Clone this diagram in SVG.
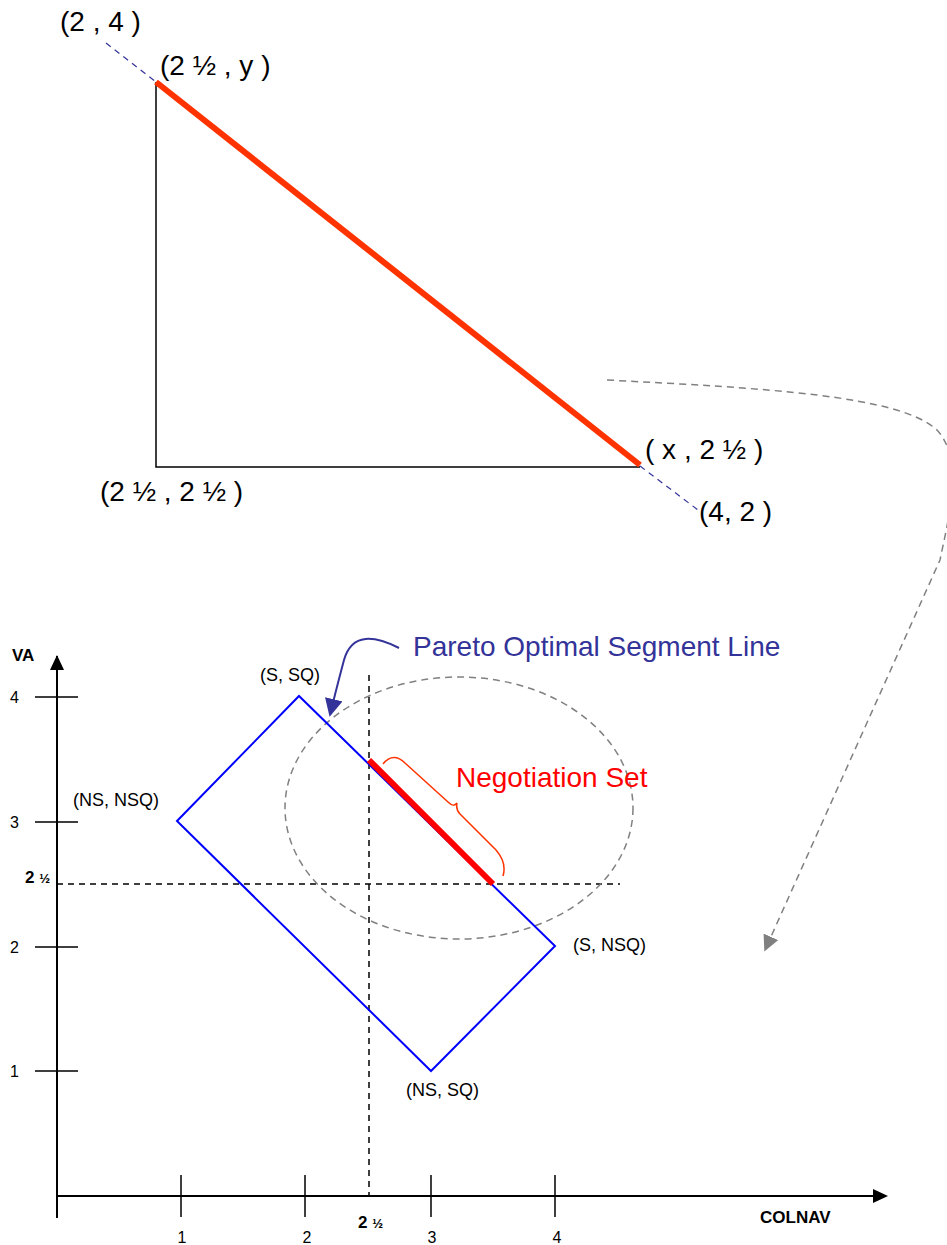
<svg xmlns="http://www.w3.org/2000/svg" width="947" height="1245" viewBox="0 0 947 1245">
<style>
text{font-family:"Liberation Sans",Arial,sans-serif;fill:#000}
.big{font-size:28px}
.sm{font-size:18px}
.num{font-size:16px}
.b{font-weight:bold;font-size:17px}
.ax{stroke:#000;stroke-width:2;fill:none}
.tk{stroke:#000;stroke-width:1.5;fill:none}
.dk{stroke:#000;stroke-width:1.5;stroke-dasharray:6,5;fill:none}
.gd{stroke:#808080;stroke-width:1.5;stroke-dasharray:7,5;fill:none}
.bd{stroke:#333399;stroke-width:1.2;stroke-dasharray:6,5;fill:none}
</style>
<defs>
<marker id="gh" viewBox="0 0 10 10" refX="9" refY="5" markerWidth="16" markerHeight="16" orient="auto" markerUnits="userSpaceOnUse"><path d="M0,0L10,5L0,10z" fill="#808080"/></marker>
<marker id="nh" viewBox="0 0 10 10" refX="9" refY="5" markerWidth="18" markerHeight="18" orient="auto" markerUnits="userSpaceOnUse"><path d="M0,0L10,5L0,10z" fill="#333399"/></marker>
</defs>

<g id="top-triangle">
<path d="M156,82 L156,467 L640,467" class="tk"/>
<line x1="106" y1="43" x2="156" y2="82" class="bd"/>
<line x1="640" y1="466" x2="698" y2="510" class="bd"/>
<line x1="156" y1="82" x2="640" y2="465" stroke="#ff3300" stroke-width="6"/>
<text x="60" y="31" class="big">(2 , 4 )</text>
<text x="160" y="75" class="big">(2 ½ , y )</text>
<text x="645" y="459" class="big">( x , 2 ½ )</text>
<text x="100" y="501" class="big">(2 ½ , 2 ½ )</text>
<text x="699" y="521" class="big">(4, 2 )</text>
</g>

<g id="connectors">
<path d="M607,380 C760,388 900,395 937,430 C965,460 948,520 940,560 L765,950" class="gd" marker-end="url(#gh)"/>
<path d="M399,648 C375,636 352,632 344,660 C340,675 336,690 330,715" stroke="#333399" stroke-width="2" fill="none" marker-end="url(#nh)"/>
</g>

<g id="axes">
<line x1="57" y1="1218" x2="57" y2="656" class="ax"/>
<path d="M50,670 L57,655 L64,670 Z" fill="#000"/>
<line x1="57" y1="1196" x2="874" y2="1196" class="ax"/>
<path d="M873,1189 L888,1196 L873,1203 Z" fill="#000"/>
<path d="M35,697H78M35,822H78M35,947H78M35,1071H78" class="tk"/>
<path d="M181,1175V1217M305,1175V1217M431,1175V1217M555,1175V1217" class="tk"/>
<text x="12" y="661" class="b">VA</text>
<text x="760" y="1223" class="b">COLNAV</text>
<text x="10" y="703" class="num">4</text>
<text x="10" y="828" class="num">3</text>
<text x="10" y="953" class="num">2</text>
<text x="10" y="1077" class="num">1</text>
<text x="182" y="1243" class="num" text-anchor="middle">1</text>
<text x="307" y="1243" class="num" text-anchor="middle">2</text>
<text x="432" y="1243" class="num" text-anchor="middle">3</text>
<text x="557" y="1243" class="num" text-anchor="middle">4</text>
<text x="25" y="883" class="b">2 <tspan font-size="13">½</tspan></text>
<text x="358" y="1228" class="b">2 <tspan font-size="13">½</tspan></text>
</g>

<g id="guides">
<line x1="369" y1="675" x2="369" y2="1196" class="dk"/>
<line x1="57" y1="884" x2="620" y2="884" class="dk"/>
<ellipse cx="459" cy="808" rx="174" ry="131" class="gd"/>
</g>

<g id="region">
<path d="M177,821 L299,696 L555,946 L431,1071 Z" fill="none" stroke="#0000ff" stroke-width="2"/>
<line x1="369" y1="760" x2="493" y2="884" stroke="#ff0000" stroke-width="6"/>
<path d="M383,764 C390,755 398,756 405,763 L448,802 C452,806 455,806 457,803 C456,808 457,811 460,814 L496,850 C503,858 506,866 503,876" fill="none" stroke="#ff3300" stroke-width="1.5"/>
<text x="260" y="681" class="sm">(S, SQ)</text>
<text x="73" y="806" class="sm">(NS, NSQ)</text>
<text x="573" y="951" class="sm">(S, NSQ)</text>
<text x="406" y="1096" class="sm">(NS, SQ)</text>
<text x="413" y="656" class="big" style="fill:#333399">Pareto Optimal Segment Line</text>
<text x="456" y="787" class="big" style="fill:#ff0000">Negotiation Set</text>
</g>
</svg>
